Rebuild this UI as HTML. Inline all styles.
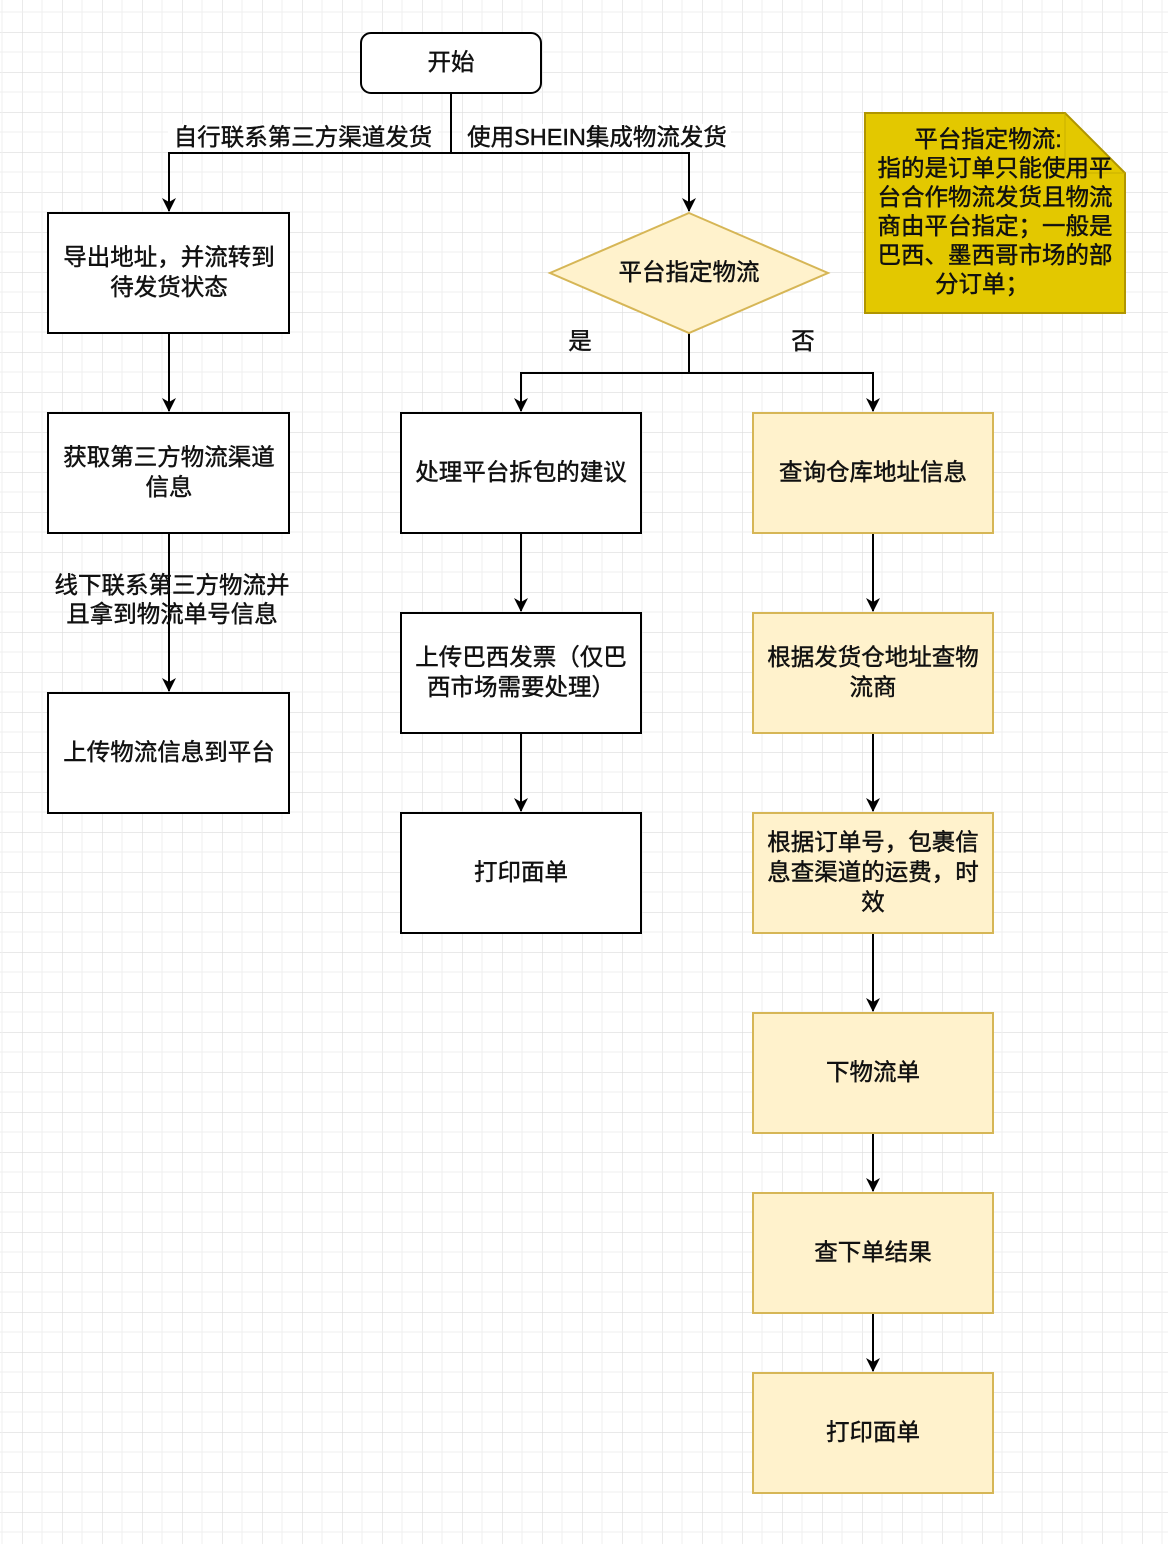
<!DOCTYPE html>
<html><head><meta charset="utf-8"><style>
html,body{margin:0;padding:0;background:#fff;}
svg text{font-family:"Liberation Sans","Noto Sans CJK SC",sans-serif;fill:#111;stroke:#111;stroke-width:0.45px;}
</style></head><body>
<svg width="1168" height="1544" viewBox="0 0 1168 1544" xmlns="http://www.w3.org/2000/svg">
<defs>
<pattern id="g" x="22" y="32" width="40" height="40" patternUnits="userSpaceOnUse">
<path d="M0 0H40M0 0V40" stroke="#dcdcdc" stroke-width="1.2" fill="none"/>
<path d="M20 0V40M0 20H40" stroke="#efefef" stroke-width="1" fill="none"/>
</pattern>
<marker id="a" markerWidth="14" markerHeight="14" refX="13" refY="7" orient="auto" markerUnits="userSpaceOnUse"><path d="M0 0L14 7L0 14L4 7Z" fill="#000"/></marker>
</defs>
<rect width="1168" height="1544" fill="url(#g)"/>
<g stroke="#000" stroke-width="2" fill="none">
<path d="M451 93V153M451 153H169V211" marker-end="url(#a)"/>
<path d="M451 153H689V211" marker-end="url(#a)"/>
<path d="M169 333V411" marker-end="url(#a)"/>
<path d="M169 533V691" marker-end="url(#a)"/>
<path d="M689 333V373H521V411" marker-end="url(#a)"/>
<path d="M689 373H873V411" marker-end="url(#a)"/>
<path d="M521 533V611" marker-end="url(#a)"/>
<path d="M521 733V811" marker-end="url(#a)"/>
<path d="M873 533V611" marker-end="url(#a)"/>
<path d="M873 733V811" marker-end="url(#a)"/>
<path d="M873 933V1011" marker-end="url(#a)"/>
<path d="M873 1133V1191" marker-end="url(#a)"/>
<path d="M873 1313V1371" marker-end="url(#a)"/>
</g>
<rect x="361" y="33" width="180" height="60" rx="10" fill="#fff" stroke="#000" stroke-width="2"/>
<g fill="#fff" stroke="#000" stroke-width="2">
<rect x="48" y="213" width="241" height="120"/>
<rect x="48" y="413" width="241" height="120"/>
<rect x="48" y="693" width="241" height="120"/>
<rect x="401" y="413" width="240" height="120"/>
<rect x="401" y="613" width="240" height="120"/>
<rect x="401" y="813" width="240" height="120"/>
</g>
<g fill="#fff2cc" stroke="#d6b656" stroke-width="2">
<path d="M689 213L828 273L689 333L550 273Z"/>
<rect x="753" y="413" width="240" height="120"/>
<rect x="753" y="613" width="240" height="120"/>
<rect x="753" y="813" width="240" height="120"/>
<rect x="753" y="1013" width="240" height="120"/>
<rect x="753" y="1193" width="240" height="120"/>
<rect x="753" y="1373" width="240" height="120"/>
</g>
<path d="M865 113H1065L1125 173V313H865Z" fill="#e3c800" stroke="#b09500" stroke-width="2"/>
<path d="M1065 113V173H1125" fill="none" stroke="#c9b000" stroke-width="1"/>
<g font-size="23.5" text-anchor="middle">
<text x="451" y="70">开始</text>
<rect x="168" y="124" width="270" height="26" fill="#fff" stroke="none"/>
<text x="303" y="145">自行联系第三方渠道发货</text>
<rect x="463" y="124" width="268" height="26" fill="#fff" stroke="none"/>
<text x="597" y="145">使用SHEIN集成物流发货</text>
<text x="169" y="265">导出地址，并流转到</text>
<text x="169" y="295">待发货状态</text>
<text x="169" y="465">获取第三方物流渠道</text>
<text x="169" y="495">信息</text>
<text x="172" y="593">线下联系第三方物流并</text>
<text x="172" y="622">且拿到物流单号信息</text>
<text x="169" y="760">上传物流信息到平台</text>
<text x="689" y="280">平台指定物流</text>
<text x="580" y="349">是</text>
<text x="803" y="349">否</text>
<text x="521" y="480">处理平台拆包的建议</text>
<text x="521" y="665">上传巴西发票（仅巴</text>
<text x="521" y="695">西市场需要处理）</text>
<text x="521" y="880">打印面单</text>
<text x="873" y="480">查询仓库地址信息</text>
<text x="873" y="665">根据发货仓地址查物</text>
<text x="873" y="695">流商</text>
<text x="873" y="850">根据订单号，包裹信</text>
<text x="873" y="880">息查渠道的运费，时</text>
<text x="873" y="910">效</text>
<text x="873" y="1080">下物流单</text>
<text x="873" y="1260">查下单结果</text>
<text x="873" y="1440">打印面单</text>
<text x="988" y="147">平台指定物流:</text>
<text x="995" y="176">指的是订单只能使用平</text>
<text x="995" y="205">台合作物流发货且物流</text>
<text x="995" y="234">商由平台指定；一般是</text>
<text x="995" y="263">巴西、墨西哥市场的部</text>
<text x="982" y="292">分订单；</text>
</g>
</svg>
</body></html>
